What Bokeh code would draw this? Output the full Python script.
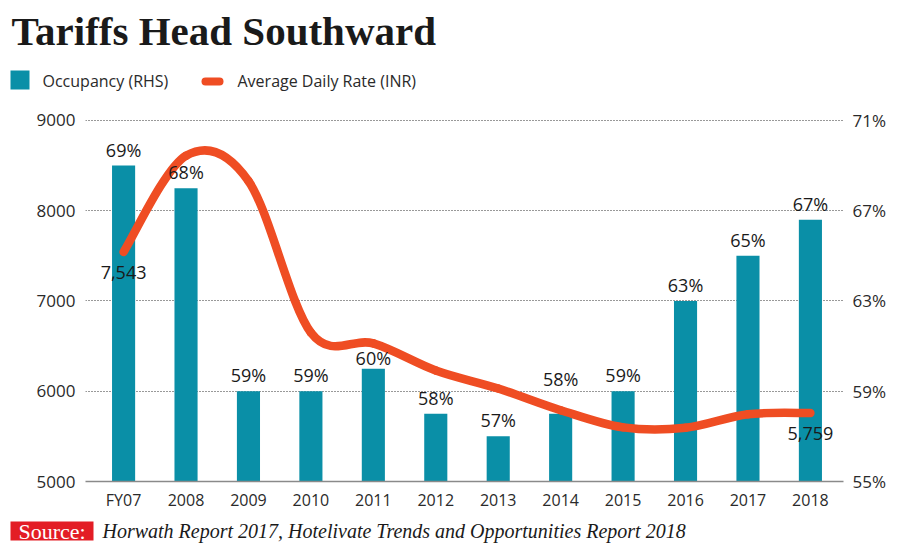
from bokeh.plotting import figure
from bokeh.models import Range1d, LinearAxis, FixedTicker, ColumnDataSource
from bokeh.layouts import column
from bokeh.embed import file_html
from bokeh.resources import INLINE
from bokeh.core.properties import value
import numpy as np

# ---------------- data ----------------
years = ["FY07", "2008", "2009", "2010", "2011", "2012", "2013", "2014", "2015", "2016", "2017", "2018"]
occupancy = [69, 68, 59, 59, 60, 58, 57, 58, 59, 63, 65, 66.6]
occupancy_labels = ["69%", "68%", "59%", "59%", "60%", "58%", "57%", "58%", "59%", "63%", "65%", "67%"]
adr = [7543, 8610, 8330, 6650, 6530, 6230, 6030, 5790, 5600, 5595, 5745, 5759]
adr_label_index = [0, 11]
adr_labels = ["7,543", "5,759"]
adr_ticks = [5000, 6000, 7000, 8000, 9000]
occ_ticks = [55, 59, 63, 67, 71]
occ_tick_labels = ["55%", "59%", "63%", "67%", "71%"]
title_text = "Tariffs Head Southward"
legend_labels = ["Occupancy (RHS)", "Average Daily Rate (INR)"]
source_tag = "Source:"
source_text = "Horwath Report 2017, Hotelivate Trends and Opportunities Report 2018"

TEAL = "#0a8fa7"
ORANGE = "#ef4d23"
RED = "#e31d25"
INK = "#1a1a1a"
SANS = "Open Sans"
SERIF = "Liberation Serif"
W = 900

ADR_LO, ADR_HI = 5000, 9000
OCC_LO, OCC_HI = 55, 71
TOP_PAD = 11 / 4000.0   # fraction of range kept above the top gridline (about 1px)


def no_align(f):
    try:
        f.frame_align = False
    except Exception:
        pass


def blank(height, y_top, y_bottom):
    f = figure(width=W, height=height, output_backend="svg", toolbar_location=None,
               x_range=Range1d(0, W), y_range=Range1d(y_bottom, y_top),
               x_axis_type=None, y_axis_type=None, min_border=0)
    f.grid.visible = False
    f.outline_line_color = None
    f.background_fill_color = "white"
    f.border_fill_color = "white"
    no_align(f)
    return f


# ---------------- header: title + legend ----------------
head = blank(100, 0, 100)
head.text(x=[11], y=[30], text=[title_text], text_font=value(SERIF), text_font_style="bold",
          text_font_size="41px", text_baseline="middle", text_color=INK)
head.quad(left=[10], right=[29], top=[70], bottom=[89], fill_color=TEAL, line_color=None)
head.line(x=[205, 219], y=[81, 81], line_color=ORANGE, line_width=8, line_cap="round")
head.text(x=[42, 237], y=[80.5, 80.5], text=legend_labels, text_font=value(SANS),
          text_font_size="16px", text_baseline="middle", text_color="#2a2a2a")

# ---------------- main chart ----------------
idx = list(range(len(years)))
p = figure(width=W, height=415, output_backend="svg", toolbar_location=None,
           x_range=Range1d(-0.61, 11.53),
           y_range=Range1d(ADR_LO, ADR_HI + (ADR_HI - ADR_LO) * TOP_PAD),
           min_border_left=85, min_border_right=57, min_border_top=19, min_border_bottom=34)
no_align(p)
p.extra_y_ranges = {"occ": Range1d(OCC_LO, OCC_HI + (OCC_HI - OCC_LO) * TOP_PAD)}
p.outline_line_color = None
p.background_fill_color = "white"
p.border_fill_color = "white"

p.xaxis.ticker = FixedTicker(ticks=idx)
p.xaxis.major_label_overrides = {i: y for i, y in enumerate(years)}
p.xaxis.axis_line_color = "#8a8a8a"
p.xaxis.axis_line_width = 1.5
p.xaxis.major_tick_line_color = None
p.xaxis.minor_tick_line_color = None
p.xaxis.major_label_standoff = 1
p.xaxis.major_label_text_font = SANS
p.xaxis.major_label_text_font_size = "16px"
p.xaxis.major_label_text_color = "#2a2a2a"

left = p.yaxis[0]
left.ticker = FixedTicker(ticks=adr_ticks)
left.axis_line_color = None
left.major_tick_line_color = None
left.minor_tick_line_color = None
left.major_label_standoff = 4
left.major_label_text_font = SANS
left.major_label_text_font_size = "17px"
left.major_label_text_color = "#2a2a2a"

right = LinearAxis(y_range_name="occ", ticker=FixedTicker(ticks=occ_ticks))
right.major_label_overrides = {t: l for t, l in zip(occ_ticks, occ_tick_labels)}
right.axis_line_color = None
right.major_tick_line_color = None
right.minor_tick_line_color = None
right.major_label_standoff = 3
right.major_label_text_font = SANS
right.major_label_text_font_size = "17px"
right.major_label_text_color = "#2a2a2a"
p.add_layout(right, "right")

p.xgrid.grid_line_color = None
p.ygrid.grid_line_color = "#333333"
p.ygrid.grid_line_dash = "1 2"
p.ygrid.grid_line_width = 1.1

p.vbar(x=idx, top=occupancy, bottom=OCC_LO, width=0.37, y_range_name="occ",
       fill_color=TEAL, line_color=None)

# smooth ADR curve: Catmull-Rom through the data points, drawn as bezier segments
xs = np.array(idx, dtype=float)
ys = np.array(adr, dtype=float)
xp = np.concatenate([[xs[0]], xs, [xs[-1]]])
yp = np.concatenate([[ys[0]], ys, [ys[-1]]])
n = len(xs) - 1
cx0 = xs[:-1] + (xp[2:n + 2] - xp[0:n]) / 6.0
cy0 = ys[:-1] + (yp[2:n + 2] - yp[0:n]) / 6.0
cx1 = xs[1:] - (xp[3:n + 3] - xp[1:n + 1]) / 6.0
cy1 = ys[1:] - (yp[3:n + 3] - yp[1:n + 1]) / 6.0
p.bezier(x0=xs[:-1], y0=ys[:-1], x1=xs[1:], y1=ys[1:], cx0=cx0, cy0=cy0, cx1=cx1, cy1=cy1,
         line_color=ORANGE, line_width=8.5, line_cap="round")

# occupancy labels: above the bar; moved above the ADR line where the line runs over the bar top
occ = np.array(occupancy, dtype=float)
line_in_occ = OCC_LO + (ys - ADR_LO) / (ADR_HI - ADR_LO) * (OCC_HI - OCC_LO)
gap = line_in_occ - occ
lifted = (gap > -0.5) & (gap < 0.8)
squeezed = (gap >= 0.8) & (gap < 1.3)
anchor = np.where(lifted, line_in_occ, occ)
dy = np.where(lifted, -31, np.where(squeezed, -11, -16))
lab_src = ColumnDataSource(dict(x=idx, y=anchor, text=occupancy_labels, dy=dy))
p.text(x="x", y="y", text="text", y_offset="dy", source=lab_src, y_range_name="occ",
       text_align="center", text_baseline="middle",
       text_font=value(SANS), text_font_size="18px", text_color=INK)
p.text(x=[idx[i] for i in adr_label_index], y=[adr[i] for i in adr_label_index], text=adr_labels,
       text_align="center", text_baseline="middle", y_offset=21,
       text_font=value(SANS), text_font_size="18px", text_color=INK)

# ---------------- footer: source ----------------
foot = blank(34, 515, 549)
foot.quad(left=[10], right=[93], top=[521], bottom=[540], fill_color=RED, line_color=None)
foot.text(x=[51.5], y=[530.5], text=[source_tag], text_font=value(SERIF), text_font_size="22px",
          text_align="center", text_baseline="middle", text_color="white")
foot.text(x=[102], y=[530.5], text=[source_text], text_font=value(SERIF), text_font_style="italic",
          text_font_size="20px", text_baseline="middle", text_color=INK)

layout = column(head, p, foot, spacing=0)
open("out.html", "w").write(file_html(layout, INLINE))
